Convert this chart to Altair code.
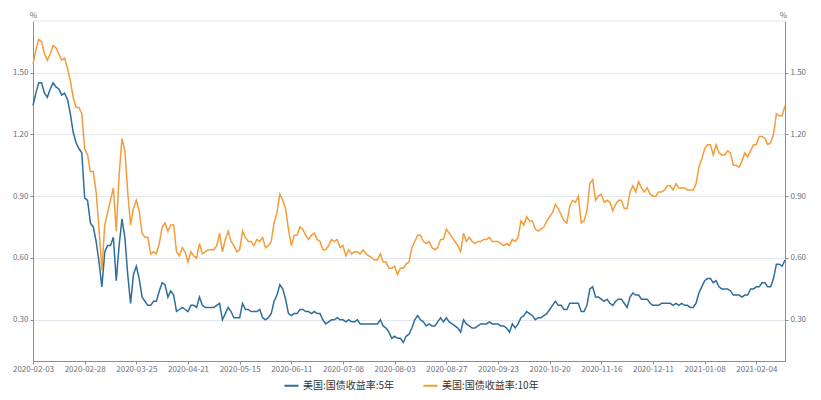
import altair as alt
import pandas as pd

# US bond-market holidays in the period (dates are the trading-day categories)
HOLIDAYS = ["2020-02-17", "2020-04-10", "2020-05-25", "2020-07-03", "2020-09-07",
            "2020-10-12", "2020-11-11", "2020-11-26", "2020-12-25", "2021-01-01",
            "2021-01-18", "2021-02-15"]
DATES = pd.bdate_range("2020-02-03", "2021-02-19", freq="C",
                       holidays=HOLIDAYS).strftime("%Y-%m-%d").tolist()

TICK_DATES = ["2020-02-03", "2020-02-28", "2020-03-25", "2020-04-21", "2020-05-15",
              "2020-06-11", "2020-07-08", "2020-08-03", "2020-08-27", "2020-09-23",
              "2020-10-20", "2020-11-16", "2020-12-11", "2021-01-08", "2021-02-04"]
Y_TICKS = [0.30, 0.60, 0.90, 1.20, 1.50]

S5 = "美国:国债收益率:5年"
S10 = "美国:国债收益率:10年"

five_y = (
    [1.34, 1.40, 1.45, 1.45, 1.40, 1.38, 1.42, 1.45, 1.43, 1.42, 1.39, 1.40, 1.37, 1.30, 1.21, 1.16, 1.13, 1.11, 0.89]
    + [0.88, 0.77, 0.75, 0.68, 0.58, 0.46, 0.63, 0.66, 0.66, 0.70, 0.49, 0.66, 0.79, 0.70, 0.52, 0.38, 0.52, 0.56, 0.50, 0.41, 0.39, 0.37]
    + [0.37, 0.39, 0.39, 0.44, 0.48, 0.47, 0.41, 0.44, 0.42, 0.34, 0.35, 0.36, 0.35, 0.34, 0.37, 0.37, 0.36, 0.41, 0.37, 0.36, 0.36]
    + [0.36, 0.36, 0.37, 0.38, 0.30, 0.33, 0.36, 0.34, 0.31, 0.31, 0.31, 0.38, 0.35, 0.35, 0.34, 0.34, 0.34, 0.35, 0.31, 0.30]
    + [0.31, 0.33, 0.39, 0.42, 0.47, 0.45, 0.40, 0.33, 0.32, 0.33, 0.33, 0.35, 0.35, 0.34, 0.34, 0.33, 0.34, 0.33, 0.33, 0.30, 0.28, 0.29]
    + [0.30, 0.30, 0.31, 0.30, 0.30, 0.29, 0.30, 0.29, 0.29, 0.30, 0.28, 0.28, 0.28, 0.28, 0.28, 0.28, 0.28, 0.30, 0.27, 0.26, 0.24, 0.21]
    + [0.22, 0.21, 0.21, 0.19, 0.22, 0.23, 0.26, 0.30, 0.32, 0.30, 0.29, 0.27, 0.28, 0.27, 0.27, 0.29, 0.31, 0.29, 0.31, 0.29, 0.28]
    + [0.27, 0.26, 0.24, 0.30, 0.28, 0.27, 0.26, 0.26, 0.27, 0.28, 0.28, 0.28, 0.29, 0.28, 0.28, 0.28, 0.27, 0.27, 0.26, 0.24, 0.28]
    + [0.26, 0.28, 0.31, 0.32, 0.34, 0.33, 0.32, 0.30, 0.31, 0.31, 0.32, 0.33, 0.35, 0.37, 0.39, 0.37, 0.37, 0.35, 0.35, 0.38, 0.38]
    + [0.38, 0.38, 0.34, 0.34, 0.37, 0.45, 0.46, 0.41, 0.41, 0.40, 0.39, 0.40, 0.38, 0.37, 0.39, 0.40, 0.40, 0.38, 0.36]
    + [0.41, 0.43, 0.42, 0.42, 0.40, 0.40, 0.40, 0.38, 0.37, 0.37, 0.37, 0.38, 0.38, 0.38, 0.38, 0.37, 0.38, 0.37, 0.38, 0.37, 0.37, 0.36]
    + [0.36, 0.38, 0.43, 0.46, 0.49, 0.50, 0.50, 0.48, 0.49, 0.46, 0.45, 0.45, 0.45, 0.44, 0.42, 0.42, 0.42, 0.41, 0.42]
    + [0.42, 0.45, 0.45, 0.46, 0.46, 0.48, 0.48, 0.46, 0.46, 0.50, 0.57, 0.57, 0.56, 0.59]
)

ten_y = (
    [1.54, 1.61, 1.66, 1.65, 1.59, 1.56, 1.59, 1.63, 1.62, 1.59, 1.56, 1.57, 1.52, 1.46, 1.38, 1.33, 1.33, 1.30, 1.13]
    + [1.10, 1.02, 1.02, 0.92, 0.74, 0.54, 0.76, 0.82, 0.88, 0.94, 0.73, 1.00, 1.18, 1.12, 0.92, 0.76, 0.84, 0.88, 0.83, 0.72, 0.70, 0.70]
    + [0.62, 0.63, 0.62, 0.67, 0.75, 0.77, 0.73, 0.76, 0.76, 0.63, 0.61, 0.65, 0.63, 0.58, 0.63, 0.61, 0.60, 0.67, 0.62, 0.63, 0.64]
    + [0.64, 0.64, 0.66, 0.72, 0.63, 0.69, 0.73, 0.68, 0.66, 0.63, 0.64, 0.73, 0.70, 0.68, 0.68, 0.66, 0.69, 0.68, 0.70, 0.65]
    + [0.66, 0.68, 0.77, 0.82, 0.91, 0.88, 0.84, 0.74, 0.66, 0.71, 0.71, 0.75, 0.74, 0.71, 0.69, 0.71, 0.72, 0.69, 0.68, 0.64, 0.64, 0.66]
    + [0.69, 0.68, 0.69, 0.65, 0.66, 0.61, 0.64, 0.62, 0.63, 0.63, 0.62, 0.64, 0.62, 0.61, 0.60, 0.59, 0.59, 0.62, 0.58, 0.58, 0.55, 0.55]
    + [0.56, 0.52, 0.55, 0.55, 0.57, 0.58, 0.65, 0.68, 0.71, 0.71, 0.68, 0.67, 0.68, 0.65, 0.64, 0.65, 0.69, 0.69, 0.74, 0.72, 0.70]
    + [0.68, 0.66, 0.63, 0.72, 0.68, 0.70, 0.68, 0.67, 0.68, 0.68, 0.69, 0.69, 0.70, 0.68, 0.68, 0.68, 0.67, 0.66, 0.67, 0.66, 0.69]
    + [0.68, 0.70, 0.78, 0.76, 0.80, 0.78, 0.78, 0.74, 0.73, 0.74, 0.75, 0.78, 0.80, 0.82, 0.86, 0.84, 0.81, 0.78, 0.77, 0.85, 0.88]
    + [0.87, 0.90, 0.77, 0.78, 0.83, 0.96, 0.98, 0.88, 0.90, 0.91, 0.87, 0.88, 0.87, 0.83, 0.86, 0.88, 0.88, 0.84, 0.84]
    + [0.92, 0.95, 0.92, 0.97, 0.94, 0.92, 0.94, 0.91, 0.90, 0.90, 0.92, 0.92, 0.93, 0.95, 0.95, 0.93, 0.96, 0.94, 0.94, 0.94, 0.93, 0.93]
    + [0.93, 0.96, 1.04, 1.08, 1.13, 1.15, 1.15, 1.10, 1.15, 1.11, 1.10, 1.10, 1.12, 1.11, 1.05, 1.05, 1.04, 1.07, 1.11]
    + [1.09, 1.12, 1.15, 1.15, 1.19, 1.19, 1.18, 1.15, 1.16, 1.20, 1.30, 1.29, 1.29, 1.34]
)

assert len(five_y) == len(DATES) == len(ten_y), (len(five_y), len(DATES), len(ten_y))

df = pd.DataFrame({
    "date": DATES * 2,
    "series": [S5] * len(DATES) + [S10] * len(DATES),
    "value": five_y + ten_y,
})

BLUE = "#2d6e9c"
ORANGE = "#f59c38"
AXIS_C = "#8a8d96"
LABEL_C = "#6e7079"
GRID_C = "#e3e6ee"
FONT = "Noto Sans CJK SC"
W, H = 752, 340

yscale = alt.Scale(domain=[0.10, 1.75], nice=False, zero=False)

x_enc = alt.X("date:O", scale=alt.Scale(type="point", padding=0),
              axis=alt.Axis(values=TICK_DATES, labelAngle=0, title=None, tickSize=3,
                            labelPadding=1, labelOverlap=False, grid=False,
                            domainColor=AXIS_C, tickColor=AXIS_C))

top_rule = alt.Chart(pd.DataFrame({"a": [0]})).mark_rule(color=GRID_C, strokeWidth=1).encode(
    y=alt.value(0), x=alt.value(0), x2=alt.value(W))

lines = alt.Chart(df).mark_line(strokeWidth=1.5).encode(
    x=x_enc,
    y=alt.Y("value:Q", scale=yscale,
            axis=alt.Axis(orient="left", values=Y_TICKS, format=".2f", title="%",
                          titleAngle=0, titleX=0, titleY=-6, titleAlign="center",
                          titleBaseline="middle", grid=True, gridColor=GRID_C,
                          tickSize=3, labelPadding=2, domainColor=AXIS_C, tickColor=AXIS_C)),
    color=alt.Color("series:N",
                    scale=alt.Scale(domain=[S5, S10], range=[BLUE, ORANGE]),
                    legend=alt.Legend(orient="none", legendX=250, legendY=356,
                                      direction="horizontal", title=None,
                                      symbolType="stroke", symbolSize=200,
                                      symbolStrokeWidth=2, labelFontSize=10,
                                      labelColor="#333333", labelFont=FONT,
                                      columnPadding=24, labelOffset=3, padding=0)),
)

right = alt.Chart(df).mark_line(strokeOpacity=0).encode(
    x=x_enc,
    y=alt.Y("value:Q", scale=yscale,
            axis=alt.Axis(orient="right", values=Y_TICKS, format=".2f", title="%",
                          titleAngle=0, titleX=-2, titleY=-6, titleAlign="center",
                          titleBaseline="middle", grid=False,
                          tickSize=3, labelPadding=2, domainColor=AXIS_C, tickColor=AXIS_C)),
    detail="series:N",
)

chart = alt.layer(top_rule, lines, right).resolve_scale(y="independent").properties(
    width=W, height=H,
    autosize=alt.AutoSizeParams(type="none"),
    padding={"left": 25, "top": 13, "right": 26, "bottom": 30},
).configure_view(stroke=None).configure_axis(
    labelFont=FONT, titleFont=FONT, labelFontSize=8, titleFontSize=8,
    labelColor=LABEL_C, titleColor=LABEL_C, titleFontWeight="normal",
)

chart.save("out.html", embed_options={"renderer": "svg", "actions": False})
